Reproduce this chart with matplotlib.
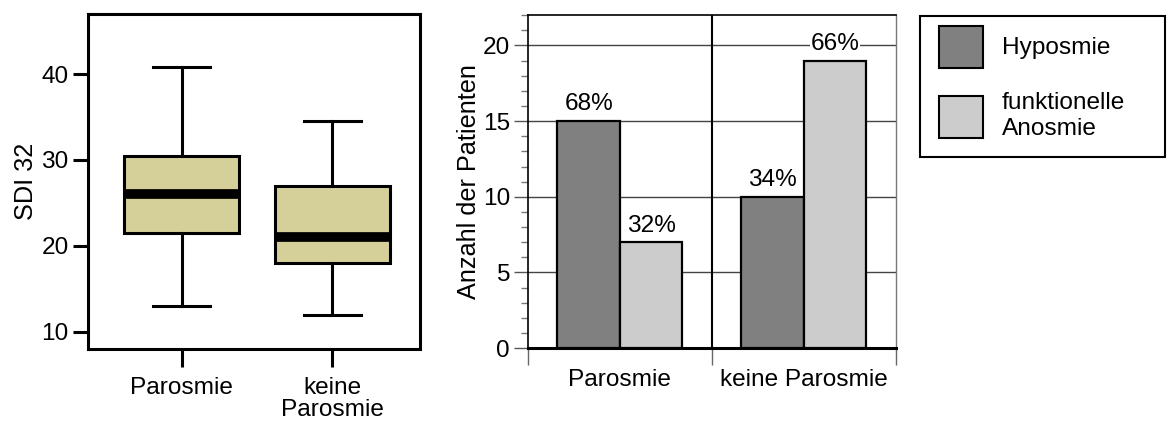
import matplotlib
matplotlib.use("Agg")
import matplotlib.pyplot as plt
from matplotlib.patches import Patch, Rectangle
import numpy as np

plt.rcParams["font.family"] = ["Liberation Sans", "DejaVu Sans"]

# box plot statistics
box_labels = ["Parosmie", "keine\nParosmie"]
whisker_lo = [13.0, 12.0]
q1 = [21.5, 18.0]
median = [26.0, 21.0]
q3 = [30.5, 27.0]
whisker_hi = [40.8, 34.5]

# bar chart
groups = ["Parosmie", "keine Parosmie"]
hyposmie = [15, 10]
anosmie = [7, 19]
pct_hypo = ["68%", "34%"]
pct_anos = ["32%", "66%"]
series_names = ["Hyposmie", "funktionelle\nAnosmie"]

FS = 17.6
FS_LAB = 18.2
DARK = "#808080"
LIGHT = "#cccccc"
BOXFILL = "#d5cf9a"
W, H = 1168, 422

fig = plt.figure(figsize=(W / 100, H / 100), dpi=100)

# ---------------- left: box plot
ax1 = fig.add_axes([0.0753, 0.173, 0.2843, 0.794])
stats = []
for i in range(2):
    stats.append(dict(whislo=whisker_lo[i], q1=q1[i], med=median[i],
                      q3=q3[i], whishi=whisker_hi[i], fliers=[],
                      label=box_labels[i]))
ax1.bxp(stats, positions=[1, 2], widths=0.76, patch_artist=True,
        boxprops=dict(facecolor=BOXFILL, edgecolor="black", linewidth=2.2),
        medianprops=dict(color="black", linewidth=7, solid_capstyle="butt"),
        whiskerprops=dict(color="black", linewidth=2.2),
        capprops=dict(color="black", linewidth=2.2),
        capwidths=0.38)
ax1.set_xlim(0.38, 2.58)
ax1.set_ylim(8, 47)
ax1.set_yticks([10, 20, 30, 40])
ax1.set_ylabel("SDI 32", fontsize=FS_LAB, labelpad=2)
for sp in ax1.spines.values():
    sp.set_linewidth(2.2)
ax1.tick_params(axis="y", length=11, width=2.2, labelsize=FS, pad=3)
ax1.tick_params(axis="x", length=13, width=2.2, labelsize=FS, pad=7)
for lab in ax1.get_xticklabels():
    lab.set_linespacing(1.0)

# ---------------- right: grouped bars
ax2 = fig.add_axes([0.452, 0.175, 0.315, 0.789])
x = np.arange(len(groups))
w = 0.34
ax2.bar(x - w / 2, hyposmie, w, color=DARK, edgecolor="black",
        linewidth=1.6, zorder=3, label=series_names[0])
ax2.bar(x + w / 2, anosmie, w, color=LIGHT, edgecolor="black",
        linewidth=1.6, zorder=3, label=series_names[1])
for i in range(len(groups)):
    ax2.text(x[i] - w / 2, hyposmie[i] + 1.1, pct_hypo[i], ha="center",
             va="center", fontsize=FS, zorder=4,
             bbox=dict(facecolor="white", edgecolor="none", pad=0.5))
    ax2.text(x[i] + w / 2, anosmie[i] + 1.1, pct_anos[i], ha="center",
             va="center", fontsize=FS, zorder=4,
             bbox=dict(facecolor="white", edgecolor="none", pad=0.5))

ax2.set_xlim(-0.5, 1.5)
ax2.set_ylim(0, 22)
ax2.set_yticks([0, 5, 10, 15, 20])
ax2.set_yticks(np.arange(0, 23, 1), minor=True)
ax2.yaxis.grid(True, color="#444444", linewidth=1, zorder=0)
ax2.axvline(0.5, color="black", linewidth=1.5, zorder=2)
ax2.set_xticks(x)
ax2.set_xticklabels(groups)
ax2.set_xticks([-0.5, 0.5, 1.5], minor=True)
ax2.tick_params(axis="x", which="major", length=0, labelsize=FS, pad=15)
ax2.tick_params(axis="x", which="minor", length=12, width=1, color="#666666")
ax2.tick_params(axis="y", which="major", length=10, width=1, color="#555555",
                labelsize=FS, pad=3)
ax2.tick_params(axis="y", which="minor", length=5, width=1, color="#777777")
ax2.set_ylabel("Anzahl der Patienten", fontsize=FS_LAB, labelpad=1)
ax2.spines["bottom"].set_linewidth(2.2)
ax2.spines["left"].set_linewidth(1.2)
ax2.spines["top"].set_linewidth(1.2)
ax2.spines["right"].set_linewidth(1)
ax2.spines["right"].set_color("#777777")

# legend (frame drawn separately so padding matches)
handles = [Patch(facecolor=DARK, edgecolor="black", linewidth=1.5),
           Patch(facecolor=LIGHT, edgecolor="black", linewidth=1.5)]
fig.legend(handles, series_names, loc="upper left",
           bbox_to_anchor=(939 / W, 1 - 26 / H), fontsize=FS,
           frameon=False, handlelength=1.78, handleheight=2.25,
           handletextpad=0.8, borderpad=0, borderaxespad=0,
           labelspacing=1.0)
fig.add_artist(Rectangle((920 / W, 1 - 157 / H), 245 / W, 141 / H,
                         transform=fig.transFigure, fill=False,
                         edgecolor="black", linewidth=1.5))

fig.savefig("out.png", dpi=100)
